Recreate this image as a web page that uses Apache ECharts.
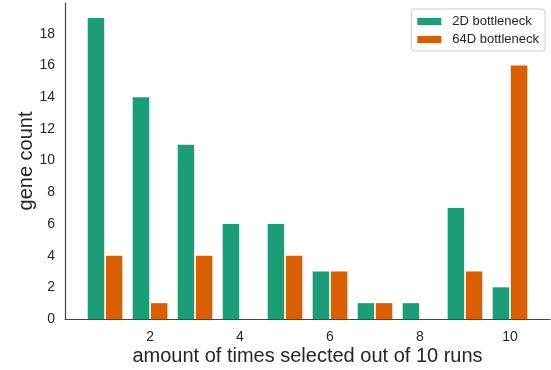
<!DOCTYPE html>
<html>
<head>
<meta charset="utf-8">
<script src="https://cdn.jsdelivr.net/npm/echarts@6/dist/echarts.min.js"></script>
<style>
  html, body { margin: 0; padding: 0; background: #fff; }
  #chart { width: 551px; height: 370px; }
</style>
</head>
<body>
<div id="chart"></div>
<script>
// number of runs (out of 10) in which a gene was selected
const runs = [1, 2, 3, 4, 5, 6, 7, 8, 9, 10];
// gene counts per bottleneck size
const counts2D = [19, 14, 11, 6, 6, 3, 1, 1, 7, 2];
const counts64D = [4, 1, 4, 0, 4, 3, 1, 0, 3, 16];
const xTicks = [2, 4, 6, 8, 10];
const yTicks = [0, 2, 4, 6, 8, 10, 12, 14, 16, 18];

const textColor = '#262626';
const font = 'Liberation Sans, Arial, sans-serif';

const chart = echarts.init(document.getElementById('chart'), null, { renderer: 'canvas' });
chart.setOption({
  animation: false,
  backgroundColor: '#fff',
  grid: { left: 65, right: 1, top: 3, bottom: 51, containLabel: false, outerBoundsMode: 'none' },
  legend: {
    right: 6, top: 9,
    orient: 'vertical',
    itemWidth: 24, itemHeight: 7, itemGap: 5,
    padding: [6, 6, 5, 6],
    borderColor: '#cccccc', borderWidth: 1, borderRadius: 3,
    backgroundColor: '#fff',
    icon: 'rect',
    textStyle: { color: textColor, fontSize: 13, fontFamily: font, padding: [0, 0, 0, 6] },
    data: ['2D bottleneck', '64D bottleneck']
  },
  xAxis: {
    type: 'value',
    min: 0.11, max: 10.89,
    name: 'amount of times selected out of 10 runs',
    nameLocation: 'middle', nameGap: 27, nameMoveOverlap: false,
    nameTextStyle: { color: textColor, fontSize: 20, fontFamily: font },
    axisLine: { show: true, lineStyle: { color: '#444', width: 1.2 } },
    axisTick: { show: false, customValues: xTicks },
    axisLabel: { customValues: xTicks, color: textColor, fontSize: 14, fontFamily: font, margin: 11 },
    splitLine: { show: false }
  },
  yAxis: {
    type: 'value',
    min: 0, max: 19.95,
    name: 'gene count',
    nameLocation: 'middle', nameGap: 29, nameMoveOverlap: false,
    nameTextStyle: { color: textColor, fontSize: 20, fontFamily: font },
    axisLine: { show: true, lineStyle: { color: '#444', width: 1.2 } },
    axisTick: { show: false, customValues: yTicks },
    axisLabel: { customValues: yTicks, color: textColor, fontSize: 14, fontFamily: font, margin: 10 },
    splitLine: { show: false }
  },
  series: [
    {
      name: '2D bottleneck', type: 'bar',
      barWidth: 16.5, barGap: '10%',
      itemStyle: { color: '#1b9e77' },
      data: runs.map((r, i) => [r, counts2D[i]])
    },
    {
      name: '64D bottleneck', type: 'bar',
      barWidth: 16.5, barGap: '10%',
      itemStyle: { color: '#d95f02' },
      data: runs.map((r, i) => [r, counts64D[i]])
    }
  ]
});
</script>
</body>
</html>
